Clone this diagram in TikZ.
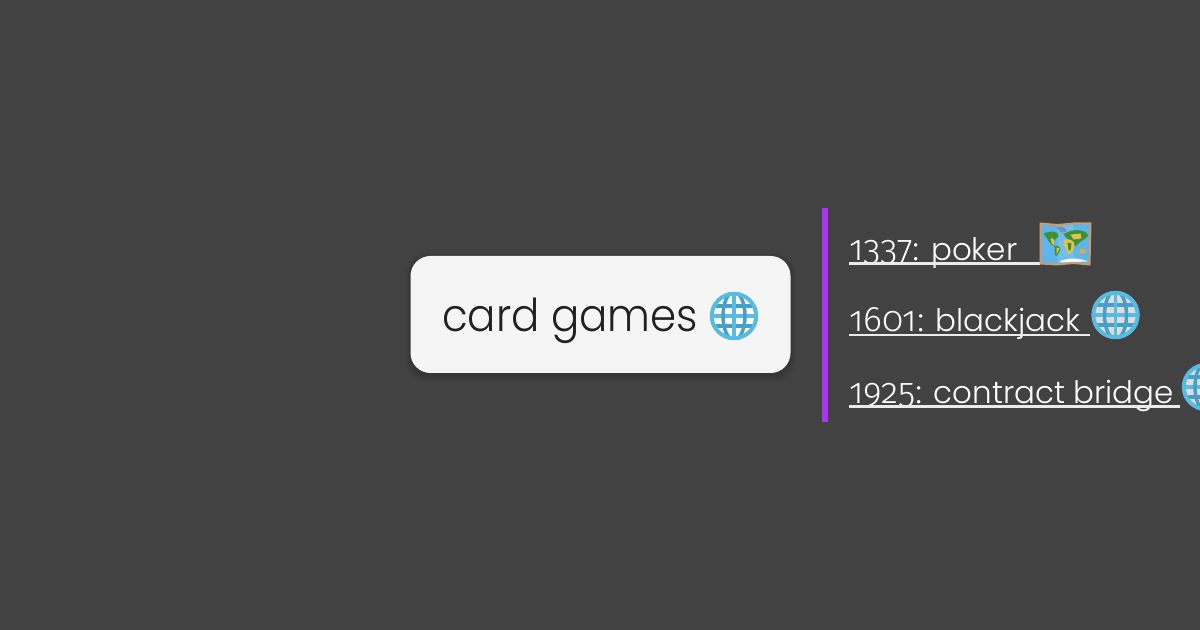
\documentclass[tikz,border=0pt]{standalone}
\usepackage{fontspec}
\setmainfont{Poppins Light}
\newfontfamily\numfont[Numbers=OldStyle]{Fira Sans Light}
\newfontfamily\titlefont[FakeStretch=0.925]{Poppins Light}
\usetikzlibrary{calc}
\definecolor{bgcol}{HTML}{424242}
\definecolor{cardcol}{HTML}{F5F5F5}
\definecolor{barcol}{HTML}{AD33F2}
\definecolor{inkcol}{HTML}{212121}
\definecolor{globeline}{HTML}{5ABBE0}
\definecolor{globedark}{HTML}{469FC6}
\definecolor{mapsea}{HTML}{5FB4EA}
\definecolor{mapedge}{HTML}{CC9A6E}
\definecolor{mapland}{HTML}{3F8F35}
\definecolor{mapsand}{HTML}{E3C24A}
\newcommand{\dg}[1]{{\numfont\fontsize{26.6pt}{28pt}\selectfont #1}}
\tikzset{
  x=0.75pt,y=-0.75pt,
  cardbox/.style={fill=cardcol,rounded corners=15pt,minimum width=285pt,minimum height=87.75pt,inner sep=0pt},
  leaf/.style={anchor=base west,inner sep=0pt,text=white,font=\fontsize{23.2pt}{28pt}\selectfont},
  title/.style={anchor=base west,inner sep=0pt,text=inkcol,font=\titlefont\fontsize{34pt}{40pt}\selectfont},
  uline/.style={draw=white!92!black,line width=1.6pt},
  pics/globe/.style={code={
    \fill[#1] (0,0) circle (23);
    \begin{scope}
      \clip (0,0) circle (24);
      \foreach \yy in {-10,10}{\draw[globedark,line width=2.6pt] (-24,\yy) -- (24,\yy);}
      \draw[globeline,line width=2.6pt] (-24,0) -- (24,0);
      \draw[globeline,line width=2.6pt] (0,-24) -- (0,24);
      \draw[globedark,line width=2.6pt] (0,0) ellipse (11 and 24);
    \end{scope}
    \draw[globeline,line width=3pt] (0,0) circle (22.2);
  }},
  pics/worldmap/.style={code={
    \fill[mapsea] (-25,-20) -- (-8,-18.5) -- (8,-20) -- (25,-20) -- (24,21) -- (8,19.5) -- (-8,21) -- (-25,20) -- cycle;
    \fill[white,opacity=.12] (-8,-18.5) -- (8,-20) -- (8,19.5) -- (-8,21) -- cycle;
    \fill[gray!60!mapsea] (-9,-17) .. controls (-5,-17) and (2,-16) .. (1,-12) .. controls (-3,-9) and (-7,-12) .. (-9,-17) -- cycle;
    \fill[mapland] (-22,-10) .. controls (-14,-13) and (-7,-13) .. (-7,-7) .. controls (-11,-4) and (-13,-1) .. (-11,3) .. controls (-16,1) and (-18,-5) .. (-22,-10) -- cycle;
    \fill[mapsand] (-15,-5) .. controls (-12,-6) and (-10,-3) .. (-12,2) -- (-14,-1) -- cycle;
    \fill[mapland] (-11,2) .. controls (-6,2) and (-4,5) .. (-6,8) .. controls (-8,12) and (-10,15) .. (-11,9) -- cycle;
    \fill[mapsand] (-9,4) -- (-6,5) -- (-9,11) -- cycle;
    \fill[mapland] (-2,-9) .. controls (6,-15) and (19,-15) .. (23,-8) .. controls (19,-3) and (13,-2) .. (10,3) .. controls (6,-3) and (1,-4) .. (-2,-9) -- cycle;
    \fill[mapsand] (-2,-3) .. controls (3,-6) and (9,-3) .. (9,1) .. controls (9,6) and (5,11) .. (3,11) .. controls (2,6) and (-3,3) .. (-2,-3) -- cycle;
    \fill[mapland] (2,-1) -- (6,0) -- (5,7) -- (3,7) -- cycle;
    \fill[mapsand] (5,-9) -- (15,-10) -- (16,-5) -- (8,-4) -- cycle;
    \fill[mapsand!65!orange] (14,6) .. controls (18,4) and (21,7) .. (20,10) -- (14,10) -- cycle;
    \fill[white,opacity=.9] (-6,18) .. controls (2,14) and (14,14) .. (22,18) -- (-4,19) -- cycle;
    \draw[mapedge,line width=1.5pt,line join=round] (-25,-20) -- (-8,-18.5) -- (8,-20) -- (25,-20) -- (24,21) -- (8,19.5) -- (-8,21) -- (-25,20) -- cycle;
  }}
}
\begin{document}
\begin{tikzpicture}
\useasboundingbox (0,0) rectangle (1200,630);
\fill[bgcol] (0,0) rectangle (1200,630);
% shadow
\foreach \g/\o in {6/.025,4.5/.03,3/.035,1.5/.04}{
  \fill[black,opacity=\o,rounded corners=15pt] (411-\g,256+3-\g) rectangle (790+\g,373+3+\g);
}
\node[cardbox] (card) at (600.5,314.5) {};
\node[title] (cardtext) at (442,332) {card games};
\pic at (734,316) {globe=white};
% bar
\fill[barcol] (822,208) rectangle (828,422);
% leaves
\node[leaf] (a) at (849,260.5) {\dg{1337:} poker};
\node[leaf] (b) at (849,332) {\dg{1601:} blackjack};
\node[leaf] (c) at (849,403.5) {\dg{1925:} contract bridge};
\coordinate (au) at (849,263.5); \coordinate (aue) at (1040,263.5);
\coordinate (bu) at (849,335); \coordinate (bue) at (1090,335);
\coordinate (cu) at (849,406.5); \coordinate (cue) at (1180,406.5);
\draw[uline] (au) -- (aue);
\draw[uline] (bu) -- (bue);
\draw[uline] (cu) -- (cue);
\pic at (1065.5,243.5) {worldmap};
\pic at (1115.5,315) {globe=cardcol!90!black};
\begin{scope}
\clip (0,0) rectangle (1200,630);
\pic at (1206,387) {globe=cardcol!90!black};
\end{scope}
\end{tikzpicture}
\end{document}
